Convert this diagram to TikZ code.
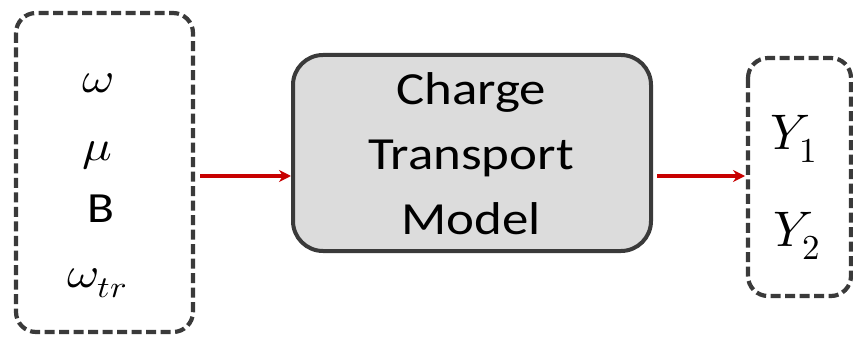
\documentclass[tikz,border=0pt]{standalone}
\usepackage{fontspec}
\usepackage{unicode-math}
\setmainfont{Carlito}
\setmathfont{Latin Modern Math}
\usetikzlibrary{arrows.meta}
\definecolor{boxborder}{HTML}{3A3A3A}
\definecolor{boxfill}{HTML}{DCDCDC}
\definecolor{arrowred}{HTML}{C80000}
\newcommand{\wide}[1]{\scalebox{1.15}[1]{#1}}
\tikzset{
  dashbox/.style={draw=boxborder, line width=4.2pt, dash pattern=on 10pt off 4.5pt, rounded corners=20pt},
  modelbox/.style={draw=boxborder, fill=boxfill, line width=4pt, rounded corners=30pt},
  flow/.style={draw=arrowred, line width=3.4pt, -{Stealth[length=12pt,width=12pt]}},
  lbl/.style={inner sep=0pt, font=\fontsize{43}{48}\selectfont}
}
\begin{document}
\begin{tikzpicture}[x=1pt,y=-1pt]
\useasboundingbox (0,0) rectangle (853,347);
% input box
\draw[dashbox] (16,13) rectangle (193,332);
\node[lbl, anchor=base] (w) at (98,93) {\wide{$\omega$}};
\node[lbl, anchor=base] (mu) at (97,161) {\wide{$\mu$}};
\node[lbl, anchor=base] (B) at (101,223) {\wide{B}};
\node[lbl, anchor=base] (wtr) at (97,287) {\wide{$\omega_{tr}$}};
\coordinate (inR) at (195,176);
% model box
\node[modelbox, minimum width=358pt, minimum height=196pt, inner sep=0pt] (model) at (472,153) {};
\node[font=\fontsize{46}{64.5}\selectfont, align=center, inner sep=0pt, anchor=base] (mtext) at (471,234) {\wide{Charge}\\\wide{Transport}\\\wide{Model}};
% output box
\draw[dashbox] (748,58) rectangle (851,296);
\node[lbl, font=\fontsize{50}{54}\selectfont, anchor=base] (y1) at (794,150) {$Y_1$};
\node[lbl, font=\fontsize{50}{54}\selectfont, anchor=base] (y2) at (797,247) {$Y_2$};
\coordinate (outL) at (745,176);
% arrows
\draw[flow] (inR -| 200,0) -- (model.west |- inR);
\draw[flow] (model.east |- inR) ++(4,0) -- (outL);
\end{tikzpicture}
\end{document}
